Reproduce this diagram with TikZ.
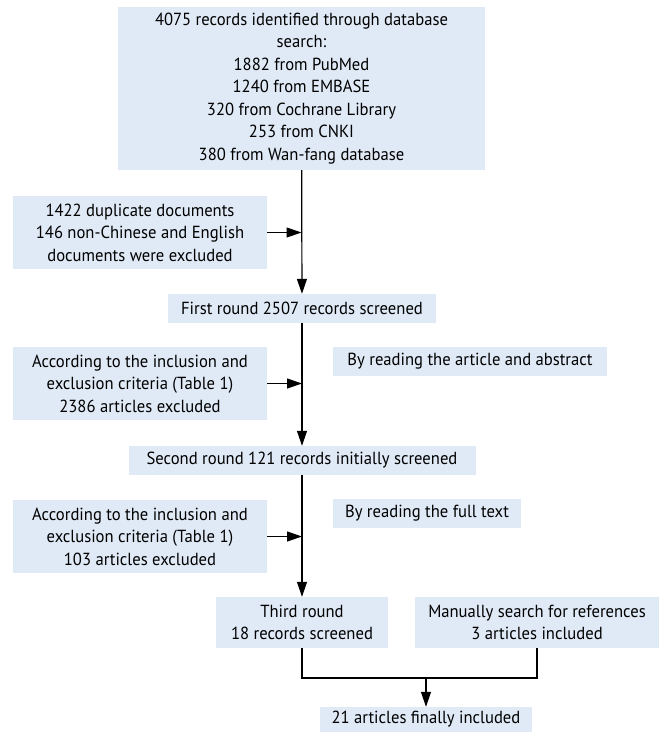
\documentclass[tikz,border=0pt]{standalone}
\usepackage{fontspec}
\setmainfont{PT Sans}[FakeStretch=0.95]
\usetikzlibrary{arrows.meta}
\definecolor{boxblue}{RGB}{224,234,246}
\begin{document}
\begin{tikzpicture}[
		x=1pt, y=-1pt,
		box/.style={fill=boxblue, inner sep=0pt, align=center, font=\fontsize{17.5}{22.5}\selectfont},
		arr/.style={-{Triangle[length=15pt,width=10pt]}, line width=1.2pt},
		line/.style={line width=1.2pt}
		]
		\useasboundingbox (0,0) rectangle (659,732);
		\node[box, minimum width=367pt, minimum height=163pt] (db) at (301.5,88.5)
		{4075 records identified through database\\ search:\\ 1882 from PubMed\\ 1240 from EMBASE\\ 320 from Cochrane Library\\ 253 from CNKI\\ 380 from Wan-fang database};
		\node[box, minimum width=254pt, minimum height=73pt] (dup) at (140,232.5)
		{1422 duplicate documents\\ 146 non-Chinese and English\\ documents were excluded};
		\node[box, minimum width=268pt, minimum height=29pt] (first) at (302,308.5)
		{First round 2507 records screened};
		\node[box, minimum width=254pt, minimum height=73pt] (crit1) at (140,383.5)
		{According to the inclusion and\\ exclusion criteria (Table 1)\\ 2386 articles excluded};
		\node[box, minimum width=274pt, minimum height=29pt] (abstr) at (470,361.5)
		{By reading the article and abstract};
		\node[box, minimum width=347pt, minimum height=29pt] (second) at (302,460.5)
		{Second round 121 records initially screened};
		\node[box, minimum width=254pt, minimum height=73pt] (crit2) at (140,536.5)
		{According to the inclusion and\\ exclusion criteria (Table 1)\\ 103 articles excluded};
		\node[box, minimum width=188pt, minimum height=29pt] (fulltext) at (427,513.5)
		{By reading the full text};
		\node[box, minimum width=172pt, minimum height=51pt] (third) at (302,622.5)
		{Third round\\ 18 records screened};
		\node[box, minimum width=244pt, minimum height=51pt] (manual) at (537,622.5)
		{Manually search for references\\ 3 articles included};
		\node[box, minimum width=212pt, minimum height=25pt] (final) at (426,719.5)
		{21 articles finally included};
		% main flow
		\draw[arr] (db) -- (first);
		\draw[arr] (first) -- (second);
		\draw[arr] (second) -- (third);
		% exclusions
		\draw[arr] (dup.east) -- (dup.east -| db.south);
		\draw[arr] (crit1.east) -- (crit1.east -| first.south);
		\draw[arr] (crit2.east) -- (crit2.east -| second.south);
		% merge
		\coordinate (join) at (426,678);
		\draw[line] (third.south) |- (join) -| (manual.south);
		\draw[arr] (join) -- (final.north);
	\end{tikzpicture}
\end{document}
